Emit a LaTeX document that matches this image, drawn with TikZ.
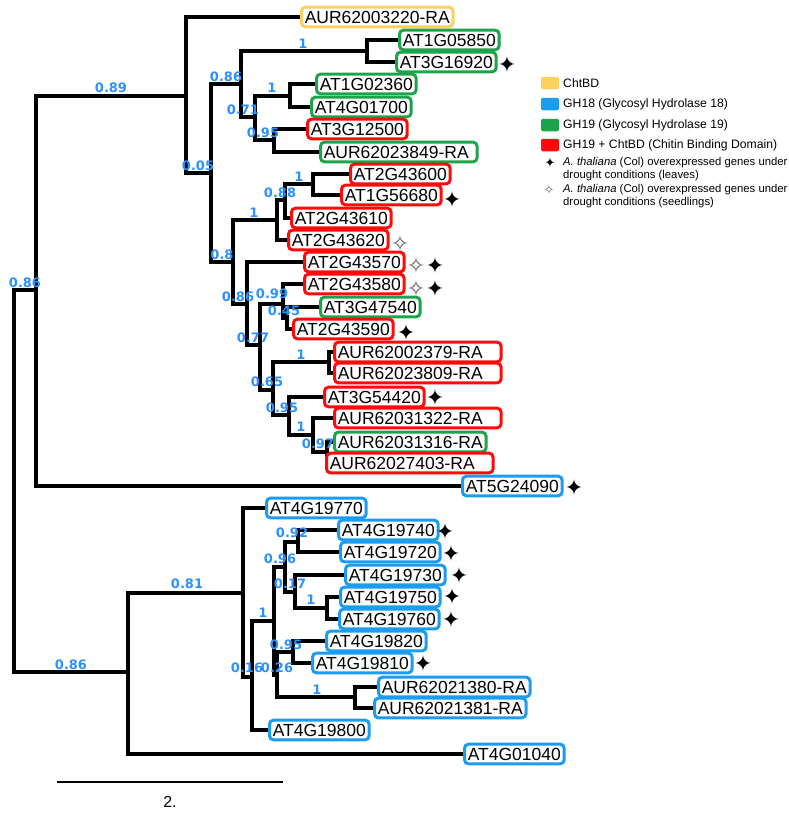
\documentclass[tikz,border=0pt]{standalone}
\usepackage{fontspec}
\setmainfont{Liberation Sans}
\newfontfamily\supfont{DejaVu Sans}
\newfontfamily\symfont{DejaVu Sans}
\usetikzlibrary{backgrounds}
\definecolor{cyel}{HTML}{FAD060}
\definecolor{cblu}{HTML}{1C9CEF}
\definecolor{cgrn}{HTML}{1DA34B}
\definecolor{cred}{HTML}{FF0A0A}
\definecolor{csup}{HTML}{2B91FF}
\newcommand\wb[2]{\makebox[#1][l]{#2}}
\tikzset{
  leaf/.style={draw=#1, line width=3pt, rounded corners=4pt, anchor=west, fill=white,
    inner xsep=3.3pt, inner ysep=0pt, minimum height=19.7pt, text height=12.5pt, text depth=0pt,
    font=\fontsize{17.5}{20}\selectfont, text=black},
  br/.style={line width=3.1pt, black},
  sup/.style={font=\supfont\bfseries\fontsize{13}{15}\selectfont, text=csup, inner sep=0pt},
  mk/.style={font=\symfont\fontsize{22}{24}\selectfont, inner sep=0pt},
  mkw/.style={font=\symfont\fontsize{22}{24}\selectfont, inner sep=0pt, text=black!60},
  legsq/.style={minimum width=18pt, minimum height=12.5pt, inner sep=0pt, rounded corners=2pt},
  legtxt/.style={anchor=west, inner sep=0pt, font=\fontsize{12.2}{14}\selectfont},
  legtxt2/.style={anchor=west, inner sep=0pt, align=left, font=\fontsize{11.3}{13}\selectfont},
}
\begin{document}
\begin{tikzpicture}[x=1pt,y=-1pt]
\useasboundingbox (0,0) rectangle (789,814);
% internal nodes
\coordinate (R) at (14,481);
\coordinate (T) at (36,290);
\coordinate (A) at (186,96);
\coordinate (C) at (211,173);
\coordinate (D) at (241,84);
\coordinate (F) at (367,51);
\coordinate (G) at (255,117);
\coordinate (H) at (290,96);
\coordinate (I) at (274,140);
\coordinate (E) at (233,262);
\coordinate (J) at (277,220);
\coordinate (L) at (285,200);
\coordinate (M) at (313,184);
\coordinate (K) at (247,304);
\coordinate (N) at (260,345);
\coordinate (O) at (283,304);
\coordinate (Q) at (287,318);
\coordinate (P) at (273,390);
\coordinate (S) at (329,362);
\coordinate (U) at (289,415);
\coordinate (V) at (313,435);
\coordinate (W) at (327,452);
\coordinate (B) at (128,672);
\coordinate (X) at (243,593);
\coordinate (Y) at (252,677);
\coordinate (Z) at (274,621);
\coordinate (Za) at (285,567);
\coordinate (Zb) at (277,675);
\coordinate (Zc) at (298,542);
\coordinate (Zd) at (295,592);
\coordinate (Ze) at (327,608);
\coordinate (Zf) at (293,652);
\coordinate (Zg) at (355,697);
% leaves
\node[leaf=cyel] (l1) at (300,17) {AUR62003220-RA};
\node[leaf=cgrn] (l2) at (398,40) {AT1G05850};
\node[leaf=cgrn] (l3) at (395,62) {AT3G16920};
\node[leaf=cgrn] (l4) at (315,84) {AT1G02360};
\node[leaf=cgrn] (l5) at (310,107) {AT4G01700};
\node[leaf=cred] (l6) at (306,129) {AT3G12500};
\node[leaf=cgrn] (l7) at (319,152) {\wb{150pt}{AUR62023849-RA}};
\node[leaf=cred] (l8) at (349,174) {AT2G43600};
\node[leaf=cred] (l9) at (340,195) {AT1G56680};
\node[leaf=cred] (l10) at (290,218) {AT2G43610};
\node[leaf=cred] (l11) at (287,240) {AT2G43620};
\node[leaf=cred] (l12) at (303,262) {AT2G43570};
\node[leaf=cred] (l13) at (303,284) {AT2G43580};
\node[leaf=cgrn] (l14) at (319,307) {AT3G47540};
\node[leaf=cred] (l15) at (292,329) {AT2G43590};
\node[leaf=cred] (l16) at (333,352) {\wb{160pt}{AUR62002379-RA}};
\node[leaf=cred] (l17) at (333,373) {\wb{160pt}{AUR62023809-RA}};
\node[leaf=cred] (l18) at (323,397) {AT3G54420};
\node[leaf=cred] (l19) at (333,418) {\wb{160pt}{AUR62031322-RA}};
\node[leaf=cgrn] (l20) at (333,442) {AUR62031316-RA};
\node[leaf=cred] (l21) at (325,463) {\wb{160pt}{AUR62027403-RA}};
\node[leaf=cblu] (l22) at (461,486) {AT5G24090};
\node[leaf=cblu] (l23) at (265,508) {AT4G19770};
\node[leaf=cblu] (l24) at (337,530) {AT4G19740};
\node[leaf=cblu] (l25) at (339,552) {AT4G19720};
\node[leaf=cblu] (l26) at (344,575) {AT4G19730};
\node[leaf=cblu] (l27) at (339,597) {AT4G19750};
\node[leaf=cblu] (l28) at (338,619) {AT4G19760};
\node[leaf=cblu] (l29) at (325,641) {AT4G19820};
\node[leaf=cblu] (l30) at (311,663) {AT4G19810};
\node[leaf=cblu] (l31) at (377,687) {AUR62021380-RA};
\node[leaf=cblu] (l32) at (373,708) {AUR62021381-RA};
\node[leaf=cblu] (l33) at (268,730) {AT4G19800};
\node[leaf=cblu] (l34) at (463,754) {AT4G01040};
% branches
\begin{scope}[on background layer]
\foreach \p/\c in {R/T,R/B,T/A,A/C,C/D,C/E,D/F,D/G,G/H,G/I,E/J,E/K,J/L,L/M,K/N,N/O,N/P,O/Q,P/S,P/U,U/V,V/W,
  B/X,X/Y,Y/Z,Z/Za,Z/Zb,Za/Zc,Za/Zd,Zd/Ze,Zb/Zf,Zb/Zg}
  {\draw[br] (\p) |- (\c);}
\foreach \p/\c in {T/l22,A/l1,F/l2,F/l3,H/l4,H/l5,I/l6,I/l7,M/l8,M/l9,L/l10,J/l11,K/l12,O/l13,Q/l14,Q/l15,
  S/l16,S/l17,U/l18,V/l19,W/l20,W/l21,B/l34,X/l23,Zc/l24,Zc/l25,Zd/l26,Ze/l27,Ze/l28,Zf/l29,Zf/l30,
  Zg/l31,Zg/l32,Y/l33}
  {\draw[br] (\p) |- (\c.west);}
\end{scope}
% support values
\foreach \t/\x/\y [count=\i] in {0.86/25/283, 0.89/111/88, 0.05/198/166, 0.86/226/77, 0.8/222/255,
  1/303/44, 0.71/243/110, 1/272/88, 0.95/263/133, 1/299/177, 0.88/280/193, 1/254/213,
  0.86/238/297, 0.99/272/294, 0.45/284/311, 0.77/253/338, 1/301/355, 0.65/267/382,
  0.95/282/408, 1/301/427, 0.97/318/444,
  0.86/71/665, 0.81/187/584, 0.92/292/533, 0.96/280/559, 0.17/290/584, 1/311/600,
  1/263/613, 0.95/286/645, 0.16/247/668, 0.26/277/668, 1/317/690}
  {\node[sup] (s\i) at (\x,\y) {\t};}
% markers
\foreach \x/\y [count=\i] in {507/64, 452/199, 435/265, 435/288, 406/332, 435/397, 574/487,
  445/531, 451/553, 459/575, 452/596, 451/619, 423/663}
  {\node[mk] (k\i) at (\x,\y) {✦};}
\foreach \x/\y [count=\i] in {400/243, 416/265, 416/288}
  {\node[mkw] (w\i) at (\x,\y) {✧};}
% legend
\node[legsq, fill=cyel] (q1) at (550,83) {};
\node[legtxt] (t1) at (563,83) {ChtBD};
\node[legsq, fill=cblu] (q2) at (550,104) {};
\node[legtxt] (t2) at (563,104) {GH18 (Glycosyl Hydrolase 18)};
\node[legsq, fill=cgrn] (q3) at (550,125) {};
\node[legtxt] (t3) at (563,125) {GH19 (Glycosyl Hydrolase 19)};
\node[legsq, fill=cred] (q4) at (550,145) {};
\node[legtxt] (t4) at (563,145) {GH19 + ChtBD (Chitin Binding Domain)};
\node[font=\symfont\fontsize{13}{15}\selectfont, inner sep=0pt] (q5) at (550,163) {✦};
\node[legtxt2, anchor=north west] (t5) at (563,157) {\textit{A. thaliana} (Col) overexpressed genes under\\drought conditions (leaves)};
\node[font=\symfont\fontsize{13}{15}\selectfont, inner sep=0pt, text=black!60] (q6) at (549,190) {✧};
\node[legtxt2, anchor=north west] (t6) at (563,184) {\textit{A. thaliana} (Col) overexpressed genes under\\drought conditions (seedlings)};
% scale bar
\coordinate (sb1) at (57,782);
\coordinate (sb2) at (283,782);
\draw[line width=2.4pt] (sb1) -- (sb2);
\node[font=\fontsize{16}{18}\selectfont, inner sep=0pt] (sbl) at (170,802) {2.};
\end{tikzpicture}
\end{document}
